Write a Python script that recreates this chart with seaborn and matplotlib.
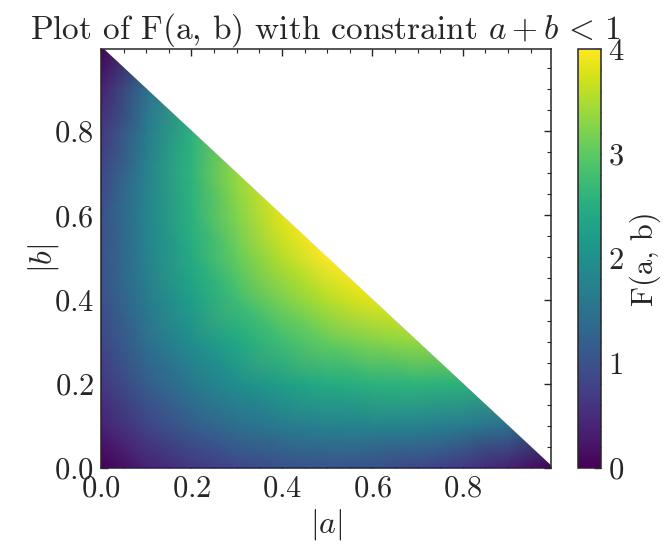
import matplotlib
matplotlib.use("Agg")
import matplotlib.pyplot as plt
import matplotlib.tri as mtri
from matplotlib.ticker import AutoMinorLocator, MultipleLocator
import seaborn as sns

# grid positions (0.1 steps) and F(a, b), one list per |b| row
grid = [0.0, 0.1, 0.2, 0.3, 0.4, 0.5, 0.6, 0.7, 0.8, 0.9, 1.0]
F_b00 = [0.00, 0.36, 0.64, 0.84, 0.96, 1.00, 0.96, 0.84, 0.64, 0.36, 0.00]
F_b01 = [0.36, 0.80, 1.16, 1.44, 1.64, 1.76, 1.80, 1.76, 1.64, 1.44]
F_b02 = [0.64, 1.16, 1.60, 1.96, 2.24, 2.44, 2.56, 2.60, 2.56]
F_b03 = [0.84, 1.44, 1.96, 2.40, 2.76, 3.04, 3.24, 3.36]
F_b04 = [0.96, 1.64, 2.24, 2.76, 3.20, 3.56, 3.84]
F_b05 = [1.00, 1.76, 2.44, 3.04, 3.56, 4.00]
F_b06 = [0.96, 1.80, 2.56, 3.24, 3.84]
F_b07 = [0.84, 1.76, 2.60, 3.36]
F_b08 = [0.64, 1.64, 2.56]
F_b09 = [0.36, 1.44]
F_b10 = [0.00]
rows = [F_b00, F_b01, F_b02, F_b03, F_b04, F_b05, F_b06, F_b07, F_b08, F_b09, F_b10]

ticks = [0.0, 0.2, 0.4, 0.6, 0.8]
cbar_ticks = [0, 1, 2, 3, 4]

sns.set_theme(style="ticks")
plt.rcParams.update({
    "font.family": ["cmr10", "DejaVu Serif"],
    "mathtext.fontset": "cm",
    "axes.formatter.use_mathtext": True,
    "axes.linewidth": 1.1,
    "xtick.direction": "in",
    "ytick.direction": "in",
    "xtick.top": True,
    "ytick.right": True,
    "xtick.major.size": 5,
    "ytick.major.size": 5,
    "xtick.minor.size": 2.8,
    "ytick.minor.size": 2.8,
    "xtick.major.width": 1.0,
    "ytick.major.width": 1.0,
    "xtick.minor.width": 0.8,
    "ytick.minor.width": 0.8,
    "xtick.major.pad": 5,
    "ytick.major.pad": 5,
    "xtick.labelsize": 22,
    "ytick.labelsize": 22,
    "axes.labelsize": 22,
})

# points of the triangular lattice a + b <= 1
xs, ys, zs = [], [], []
for j, row in enumerate(rows):
    for i, val in enumerate(row):
        xs.append(grid[i])
        ys.append(grid[j])
        zs.append(val)
tri = mtri.Triangulation(xs, ys)

fig = plt.figure(figsize=(6.65, 5.48), dpi=100)
ax = fig.add_axes([0.1519, 0.1460, 0.6767, 0.7646])
cax = fig.add_axes([0.8687, 0.1460, 0.0346, 0.7646])

cmap = sns.color_palette("viridis", as_cmap=True)
mesh = ax.tripcolor(tri, zs, shading="gouraud", cmap=cmap, vmin=0, vmax=4)

ax.set_xlim(0, 0.995)
ax.set_ylim(0, 0.995)
ax.set_xticks(ticks)
ax.set_yticks(ticks)
ax.xaxis.set_minor_locator(AutoMinorLocator())
ax.yaxis.set_minor_locator(AutoMinorLocator())
ax.set_xlabel(r"$|a|$", fontsize=23, labelpad=3)
ax.set_ylabel(r"$|b|$", fontsize=23, labelpad=-5)
ax.set_title(r"Plot of F(a, b) with constraint $a + b \,<\, 1$", fontsize=24, pad=7)

cb = fig.colorbar(mesh, cax=cax)
cb.set_ticks(cbar_ticks)
cb.ax.yaxis.set_minor_locator(MultipleLocator(0.2))
cb.ax.tick_params(which="both", direction="in", right=True, left=False)
cb.outline.set_linewidth(1.1)
cb.set_label("F(a, b)", fontsize=22, labelpad=4)

fig.savefig("out.png", dpi=100)
